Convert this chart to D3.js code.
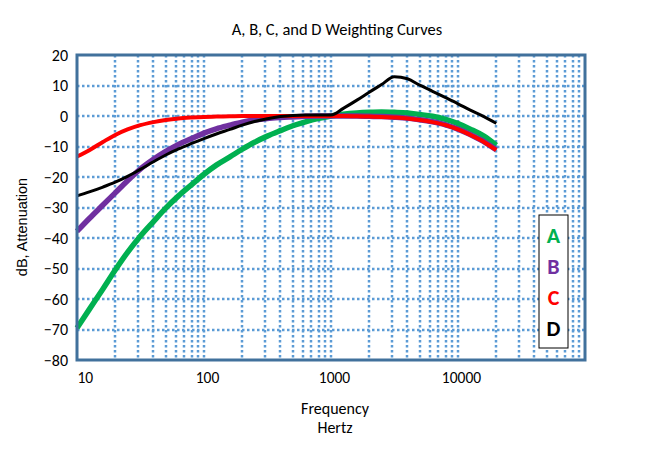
<!DOCTYPE html>
<html>
<head>
<meta charset="utf-8">
<script src="https://cdn.jsdelivr.net/npm/d3@7"></script>
<style>
  html, body { margin: 0; padding: 0; background: #fff; }
  svg { display: block; }
  .cal { font-family: Carlito, Calibri, Lato, "Open Sans", sans-serif; }
</style>
</head>
<body>
<svg id="chart" width="658" height="449"></svg>
<script>
// ---------- data ----------
const freqs = [10,12.5,16,20,25,31.5,40,50,63,80,100,125,160,200,250,315,400,500,630,800,
               1000,1250,1600,2000,2500,3150,4000,5000,6300,8000,10000,12500,16000,20000];
const weightA = [-69.5,-63.4,-56.7,-50.5,-44.7,-39.4,-34.6,-30.2,-26.2,-22.5,-19.1,-16.1,-13.4,-10.9,-8.6,-6.6,-4.8,-3.2,-1.9,-0.8,
                 0,0.6,1.0,1.2,1.3,1.2,1.0,0.5,-0.1,-1.1,-2.5,-4.3,-6.6,-9.6];
const weightB = [-37.8,-33.6,-29.2,-25.2,-21.2,-17.4,-14.2,-11.6,-9.3,-7.4,-5.6,-4.2,-3.0,-2.0,-1.3,-0.8,-0.5,-0.3,-0.1,0,
                 0,0,0,-0.1,-0.2,-0.4,-0.7,-1.2,-1.9,-2.9,-4.3,-6.1,-8.4,-11.1];
const weightC = [-13.3,-11.2,-8.5,-6.2,-4.4,-3.0,-2.0,-1.3,-0.8,-0.5,-0.3,-0.2,-0.1,0,0,0,0,0,0,0,
                 0,0,-0.1,-0.2,-0.3,-0.5,-0.8,-1.3,-2.0,-3.0,-4.4,-6.2,-8.5,-11.2];
const weightD = [-26.2,-24.9,-23.3,-21.7,-19.8,-17.5,-15.0,-12.8,-10.8,-9.0,-7.4,-5.9,-4.4,-3.0,-1.8,-0.9,-0.2,0.2,0.3,0.3,
                 0.3,2.5,5.2,7.8,10.3,12.9,12.2,10.1,8.1,6.0,4.0,1.9,-0.2,-2.4];
const seriesNames = ["A","B","C","D"];
const seriesColors = ["#00B050","#7030A0","#FF0000","#000000"];
const xTickLabels = [10,100,1000,10000];
const yTickLabels = [20,10,0,-10,-20,-30,-40,-50,-60,-70,-80];
const titleText = "A, B, C, and D Weighting Curves";
const xTitle = ["Frequency","Hertz"];
const yTitle = "dB, Attenuation";

// ---------- layout ----------
const svg = d3.select("#chart");
const L = 77, R = 585, T = 55, B = 360;
const x = d3.scaleLog().domain([10, 100000]).range([L, R]);
const y = d3.scaleLinear().domain([-80, 20]).range([B, T]);

const gridColor = "#5B9BD5";

// gridlines
const g = svg.append("g");
g.selectAll("line.vg").data(x.ticks().filter(d => d > 10 && d < 100000))
  .join("line").attr("class","vg")
  .attr("x1", d => Math.round(x(d))).attr("x2", d => Math.round(x(d)))
  .attr("y1", T).attr("y2", B)
  .attr("stroke", gridColor).attr("stroke-width", 2.5).attr("stroke-dasharray", "2.5,2.5");
g.selectAll("line.hg").data(yTickLabels.filter(d => d > -80 && d < 20))
  .join("line").attr("class","hg")
  .attr("x1", L).attr("x2", R)
  .attr("y1", d => Math.round(y(d))).attr("y2", d => Math.round(y(d)))
  .attr("stroke", gridColor).attr("stroke-width", 2.5).attr("stroke-dasharray", "2.5,2.5");

// curves
const series = [weightA, weightB, weightC, weightD];
const widths = [5.5, 5.5, 4, 3];
const line = d3.line().x((d,i) => x(freqs[i])).y(d => y(d)).curve(d3.curveMonotoneX);
series.forEach((s, k) => {
  svg.append("path").datum(s)
    .attr("d", line)
    .attr("fill", "none")
    .attr("stroke", seriesColors[k])
    .attr("stroke-width", widths[k])
    .attr("stroke-linejoin", "round");
});

// border
svg.append("rect").attr("x", L).attr("y", T).attr("width", R - L).attr("height", B - T)
  .attr("fill", "none").attr("stroke", "#41719C").attr("stroke-width", 3);

// y axis labels
const yAxis = svg.append("g").attr("transform", `translate(${L - 9},0)`)
  .call(d3.axisLeft(y).tickValues(yTickLabels).tickSize(0).tickPadding(0).tickFormat(d3.format("d")));
yAxis.select(".domain").remove();
yAxis.selectAll("text").attr("class","cal").style("font-size","16px").attr("fill","#000")
  .attr("font-family", null);

// x axis labels
const xAxis = svg.append("g").attr("transform", `translate(0,${B + 8})`)
  .call(d3.axisBottom(x).tickValues(xTickLabels).tickSize(0).tickPadding(0).tickFormat(d3.format("d")));
xAxis.select(".domain").remove();
xAxis.selectAll("text").attr("class","cal").style("font-size","15.5px").attr("fill","#000")
  .attr("font-family", null).attr("dy","0.95em")
  .attr("dx", d => d === xTickLabels[0] ? 0 : 3)
  .attr("text-anchor", d => d === xTickLabels[0] ? "start" : "middle");

// title
svg.append("text").attr("class","cal").attr("x", 337).attr("y", 35)
  .attr("text-anchor","middle").style("font-size","16.5px").text(titleText);

// x title
xTitle.forEach((t, i) => {
  svg.append("text").attr("class","cal").attr("x", 335).attr("y", 414 + i * 19)
    .attr("text-anchor","middle").style("font-size","16px").text(t);
});

// y title
svg.append("text").attr("transform","translate(27,227) rotate(-90)")
  .attr("text-anchor","middle").style("font-family","'Liberation Sans', Arial, sans-serif")
  .style("font-size","14.5px").text(yTitle);

// legend
const lg = svg.append("g");
lg.append("rect").attr("x", 539).attr("y", 215).attr("width", 29).attr("height", 133)
  .attr("fill", "#fff").attr("stroke", "#000").attr("stroke-width", 1);
const ly = d3.scalePoint().domain(seriesNames).range([235, 328]);
lg.selectAll("text").data(seriesNames).join("text")
  .attr("class","cal")
  .attr("x", 553.5).attr("y", d => ly(d)).attr("dy","0.35em")
  .attr("text-anchor","middle").style("font-size","22px").style("font-weight","bold")
  .attr("fill", (d,i) => seriesColors[i]).text(d => d);
</script>
</body>
</html>
